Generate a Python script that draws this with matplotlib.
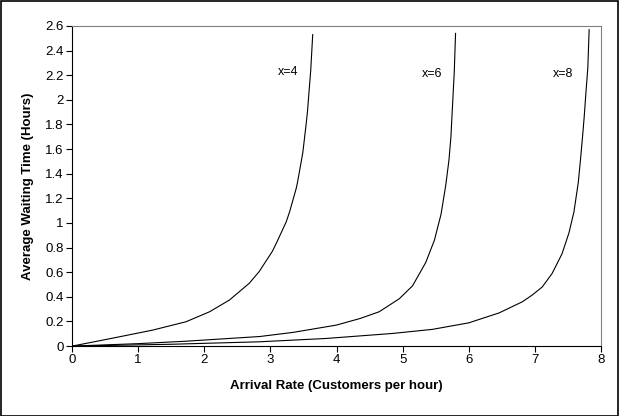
import matplotlib.pyplot as plt

plt.rcParams['font.family'] = ['Liberation Sans', 'DejaVu Sans']

# --- Data --- #
x4_rate = [0, 0.26, 0.72, 1.22, 1.725, 2.08, 2.38, 2.68, 2.83, 3.03, 3.085, 3.24, 3.29, 3.39,
           3.41, 3.49, 3.54, 3.56, 3.61, 3.64]
x4_wait = [0, 0.027, 0.076, 0.13, 0.198, 0.279, 0.374, 0.51, 0.605, 0.77, 0.83, 1.01, 1.09, 1.28,
           1.33, 1.57, 1.80, 1.90, 2.24, 2.53]

x6_rate = [0, 1.0, 1.73, 2.84, 3.35, 4.0, 4.36, 4.645, 4.95, 5.15, 5.35, 5.48, 5.58, 5.65,
           5.70, 5.73, 5.745, 5.78, 5.80]
x6_wait = [0, 0.02, 0.04, 0.078, 0.112, 0.171, 0.225, 0.279, 0.385, 0.49, 0.68, 0.86, 1.07, 1.30,
           1.51, 1.70, 1.86, 2.22, 2.54]

x8_rate = [0, 1.5, 2.83, 3.84, 4.85, 5.45, 6.0, 6.46, 6.81, 6.96, 7.11, 7.26, 7.41, 7.515,
           7.59, 7.656, 7.69, 7.72, 7.745, 7.77, 7.80, 7.82]
x8_wait = [0, 0.015, 0.035, 0.062, 0.103, 0.136, 0.189, 0.27, 0.36, 0.415, 0.48, 0.59, 0.75, 0.92,
           1.09, 1.33, 1.52, 1.70, 1.86, 2.05, 2.26, 2.57]

labels = ['x=4', 'x=6', 'x=8']
label_x = [3.27, 5.44, 7.42]
label_y = [2.23, 2.21, 2.21]

x_ticks = [0, 1, 2, 3, 4, 5, 6, 7, 8]
y_ticks = [0, 0.2, 0.4, 0.6, 0.8, 1, 1.2, 1.4, 1.6, 1.8, 2, 2.2, 2.4, 2.6]

# --- Plot --- #
fig = plt.figure(figsize=(6.19, 4.16), dpi=100)
ax = fig.add_axes([0.1163, 0.168, 0.971 - 0.1163, 0.9375 - 0.168])

for xs, ys in [(x4_rate, x4_wait), (x6_rate, x6_wait), (x8_rate, x8_wait)]:
    ax.plot(xs, ys, color='black', lw=0.8)

for lab, lx, ly in zip(labels, label_x, label_y):
    ax.text(lx, ly, lab, fontsize=9, ha='center', va='center')

ax.set_xlim(0, 8)
ax.set_ylim(0, 2.6)
ax.set_xticks(x_ticks)
ax.set_yticks(y_ticks)
ax.set_yticklabels([f'{v:g}' for v in y_ticks])
ax.tick_params(direction='out', length=4, width=0.8, labelsize=9.5, pad=2)

for side in ['top', 'right']:
    ax.spines[side].set_color('#808080')
    ax.spines[side].set_linewidth(0.8)
for side in ['left', 'bottom']:
    ax.spines[side].set_linewidth(0.8)

ax.set_xlabel('Arrival Rate (Customers per hour)', fontsize=9.5, fontweight='bold', labelpad=10)
ax.set_ylabel('Average Waiting Time (Hours)', fontsize=9.5, fontweight='bold', labelpad=8)

# black frame round the whole figure
fig.patches.append(plt.Rectangle((0.001, 0.001), 0.997, 0.997, transform=fig.transFigure,
                                 fill=False, edgecolor='black', lw=1.2))

fig.savefig('out.png', dpi=100)
